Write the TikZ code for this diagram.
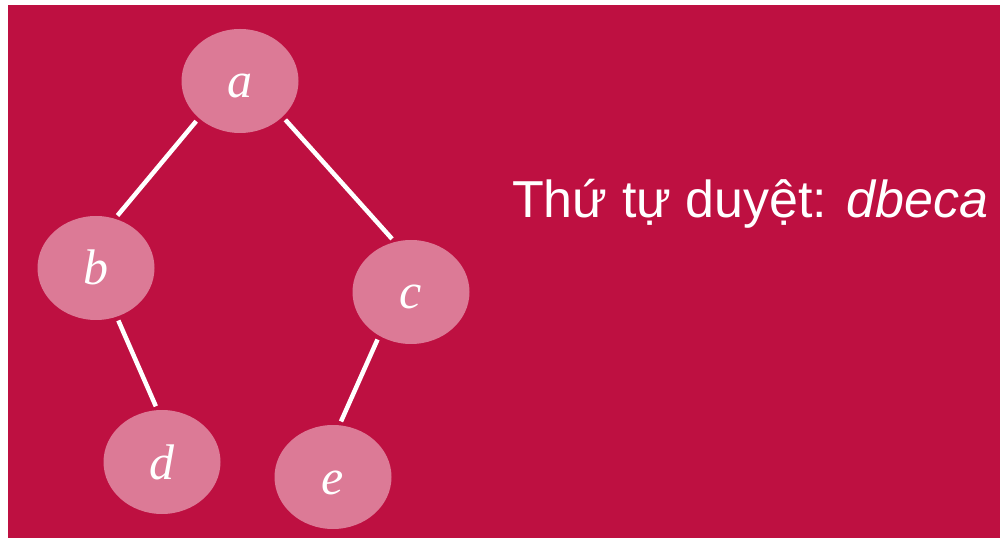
\documentclass[tikz,border=0pt]{standalone}
\usepackage{fontspec}
\setmainfont{Liberation Serif}
\newfontfamily\labelfont{Liberation Sans}
\usetikzlibrary{positioning,shapes.geometric}
\definecolor{crimsonbg}{HTML}{BE1041}
\definecolor{nodepink}{HTML}{DC7A96}

\begin{document}
\begin{tikzpicture}[
    x=1pt, y=1pt,
    vertex/.style={ellipse, fill=nodepink, on grid, minimum width=117pt, minimum height=104pt,
        inner sep=0pt, text=white, font=\fontsize{50}{60}\selectfont\itshape,
        text height=34pt, text depth=0pt},
    branch/.style={white, line width=4.5pt, shorten <=4pt, shorten >=4pt}
]
    \useasboundingbox (0,0) rectangle (1000,538);
    \fill[crimsonbg] (8,0) rectangle (1000,533);

    \node[vertex] (a) at (240,457) {a};
    \node[vertex, below left=187pt and 144pt of a] (b) {b};
    \node[vertex, below right=211pt and 171pt of a] (c) {c};
    \node[vertex, below right=194pt and 66pt of b] (d) {d};
    \node[vertex, below left=185pt and 78pt of c] (e) {e};

    \node[anchor=base west, inner sep=0pt, text=white,
        font=\labelfont\fontsize{52}{62}\selectfont] (order) at (512,320) {Thứ tự duyệt: \textit{dbeca}};

    \draw[branch] (a.222) -- (b.69);
    \draw[branch] (a.-40) -- (c.108);
    \draw[branch] (b.-67) -- (d.95);
    \draw[branch] (c.234) -- (e.83);
\end{tikzpicture}
\end{document}
